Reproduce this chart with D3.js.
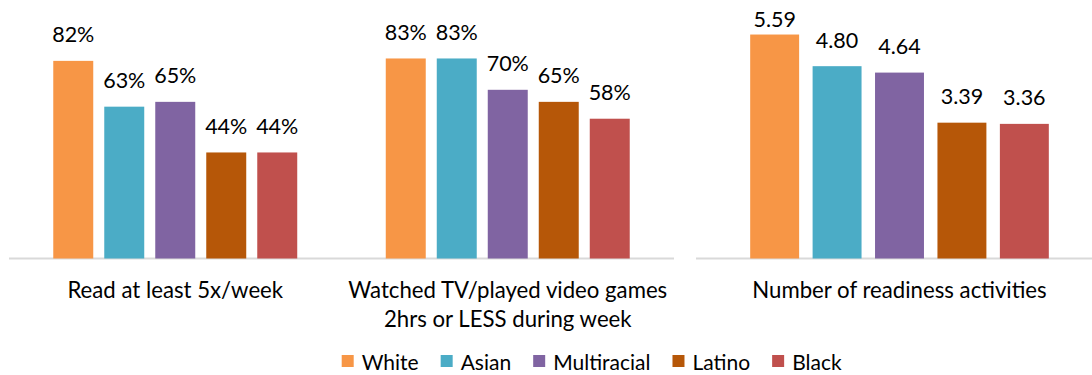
<!DOCTYPE html>
<html>
<head>
<meta charset="utf-8">
<script src="https://cdn.jsdelivr.net/npm/d3@7"></script>
<style>
  html, body { margin: 0; padding: 0; background: #fff; }
  svg { display: block; }
  text { font-family: Lato, "Open Sans", sans-serif; fill: #000; }
</style>
</head>
<body>
<svg id="chart" width="1092" height="375"></svg>
<script>
// Groups (legend order) and their colours
const groups = ["White", "Asian", "Multiracial", "Latino", "Black"];
const groupColors = ["#F79646", "#4BACC6", "#8064A2", "#B65708", "#C0504D"];

// Left chart: share of children (percent)
const pctCategories = ["read", "tv"];
const pctCategoryLabels = [
  ["Read at least 5x/week"],
  ["Watched TV/played video games", "2hrs or LESS during week"]
];
const readPct = [82, 63, 65, 44, 44];
const tvPct = [83, 83, 70, 65, 58];

// Right chart: average count
const countCategories = ["readiness"];
const countCategoryLabels = [["Number of readiness activities"]];
const readinessCount = [5.59, 4.80, 4.64, 3.39, 3.36];

const svg = d3.select("#chart");
const baseY = 258.5;
const valueFont = 21.5;
const catFont = 22.2;

function drawPanel(opts) {
  const { cats, labels, series, yScale, xRange, lineEnd, fmt } = opts;
  const g = svg.append("g");

  const x0 = d3.scaleBand().domain(cats).range(xRange).paddingInner(0).paddingOuter(0);
  const x1 = d3.scaleBand().domain(groups).range([0, x0.bandwidth()])
    .paddingInner(0.216).paddingOuter(0.868);

  // baseline
  g.append("line")
    .attr("x1", xRange[0]).attr("x2", lineEnd)
    .attr("y1", baseY).attr("y2", baseY)
    .attr("stroke", "#d9d9d9").attr("stroke-width", 2);

  cats.forEach((c, ci) => {
    const vals = series[ci];
    const cg = g.append("g").attr("transform", `translate(${x0(c)},0)`);
    cg.selectAll("rect").data(vals).join("rect")
      .attr("x", (d, i) => x1(groups[i]))
      .attr("width", x1.bandwidth())
      .attr("y", d => yScale(d))
      .attr("height", d => yScale(0) - yScale(d))
      .attr("fill", (d, i) => groupColors[i]);

    cg.selectAll("text.val").data(vals).join("text")
      .attr("class", "val")
      .attr("x", (d, i) => x1(groups[i]) + x1.bandwidth() / 2)
      .attr("y", d => Math.max(yScale(d) - 18.5, 27.3))
      .attr("text-anchor", "middle")
      .style("font-size", valueFont + "px")
      .text(fmt);

    const t = g.append("text")
      .attr("text-anchor", "middle")
      .style("font-size", catFont + "px");
    labels[ci].forEach((line, li) => {
      t.append("tspan")
        .attr("x", x0(c) + x0.bandwidth() / 2)
        .attr("y", 297.5 + li * 29.5)
        .text(line);
    });
  });
}

const yPct = d3.scaleLinear().domain([0, 100]).range([baseY, baseY - 241]);
drawPanel({
  cats: pctCategories,
  labels: pctCategoryLabels,
  series: [readPct, tvPct],
  yScale: yPct,
  xRange: [9, 674],
  lineEnd: 674,
  fmt: d => d + "%"
});

const yCount = d3.scaleLinear().domain([0, 6]).range([baseY, baseY - 240.4]);
drawPanel({
  cats: countCategories,
  labels: countCategoryLabels,
  series: [readinessCount],
  yScale: yCount,
  xRange: [696, 1103],
  lineEnd: 1092,
  fmt: d => d3.format(".2f")(d)
});

// Legend
const legend = svg.append("g");
let lx = 341.7;
groups.forEach((name, i) => {
  legend.append("rect")
    .attr("x", lx).attr("y", 355)
    .attr("width", 12).attr("height", 12)
    .attr("fill", groupColors[i]);
  const t = legend.append("text")
    .attr("x", lx + 20).attr("y", 369.5)
    .style("font-size", "21px")
    .text(name);
  lx += 20 + t.node().getComputedTextLength() + 22;
});
</script>
</body>
</html>
